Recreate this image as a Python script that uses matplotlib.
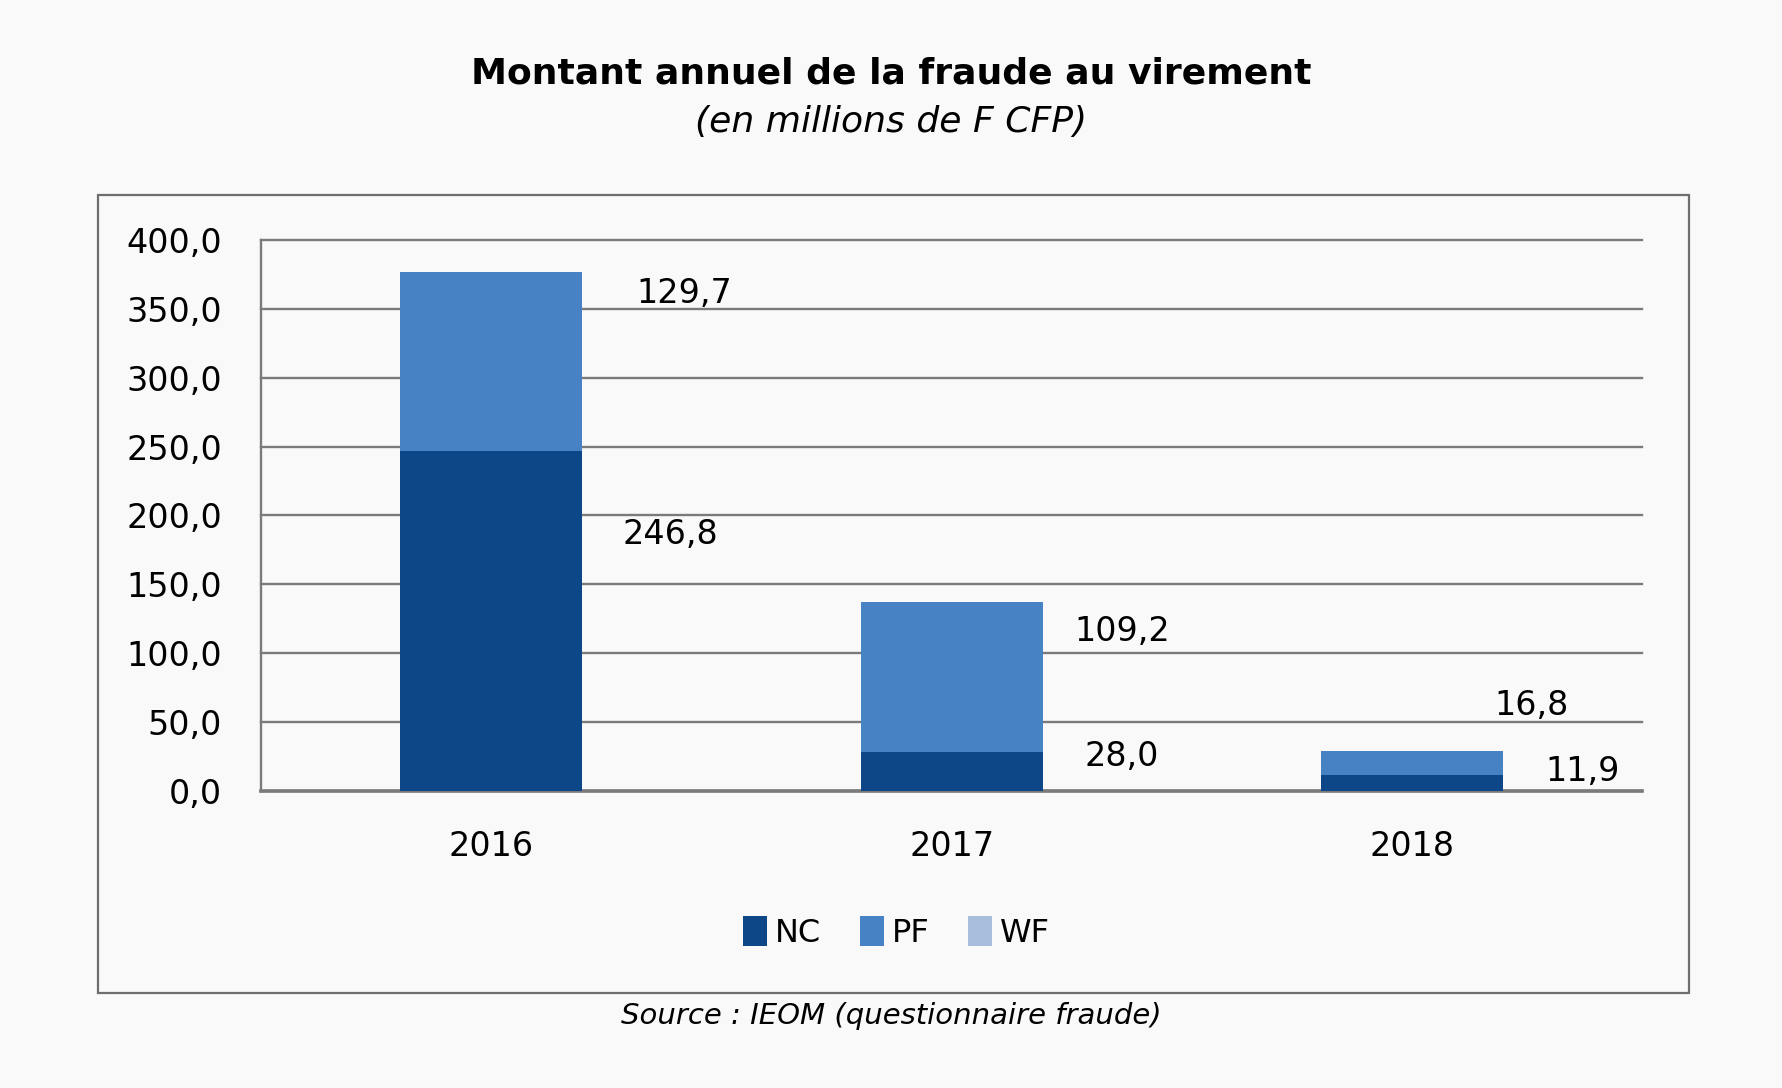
import matplotlib
matplotlib.use("Agg")
import matplotlib.pyplot as plt
from matplotlib.patches import Rectangle, Patch
from matplotlib.ticker import FuncFormatter
import numpy as np

# data (millions de F CFP)
years = ["2016", "2017", "2018"]
nc = [246.8, 28.0, 11.9]
pf = [129.7, 109.2, 16.8]
wf = [0.0, 0.0, 0.0]

# hand placed label positions, as in the source chart
nc_label_x = [0.39, 1.37, 2.37]
nc_label_y = [186, 25, 14]
pf_label_x = [0.42, 1.37, 2.26]
pf_label_y = [361, 116, 62]

c_nc = "#0e4787"
c_pf = "#4782c4"
c_wf = "#a8bcdc"
grid_c = "#7a7a7a"
bg = "#f9f9f9"

plt.rcParams["font.family"] = ["DejaVu Sans"]

fig = plt.figure(figsize=(17.82, 10.88), dpi=100)
fig.patch.set_facecolor(bg)

# outer frame of the chart
fig.patches.append(Rectangle((0.055, 0.0873), 0.893, 0.7335, transform=fig.transFigure,
                             fill=False, edgecolor="#6e6e6e", linewidth=1.6))

ax = fig.add_axes([0.1465, 0.273, 0.775, 0.5064])
ax.set_facecolor(bg)

x = np.arange(len(years))
w = 0.395
ax.bar(x, nc, w, color=c_nc, zorder=3)
ax.bar(x, pf, w, bottom=nc, color=c_pf, zorder=3)
ax.bar(x, wf, w, bottom=np.array(nc) + np.array(pf), color=c_wf, zorder=3)

for i in range(len(years)):
    ax.text(nc_label_x[i], nc_label_y[i], f"{nc[i]:.1f}".replace(".", ","),
            ha="center", va="center", fontsize=24)
    ax.text(pf_label_x[i], pf_label_y[i], f"{pf[i]:.1f}".replace(".", ","),
            ha="center", va="center", fontsize=24)

ax.set_xlim(-0.5, 2.5)
ax.set_ylim(0, 400)
ax.set_yticks(np.arange(0, 401, 50))
ax.yaxis.set_major_formatter(FuncFormatter(lambda v, p: f"{v:.1f}".replace(".", ",")))
ax.set_xticks(x)
ax.set_xticklabels(years)
ax.tick_params(axis="both", length=0, labelsize=24)
ax.tick_params(axis="y", pad=28)
ax.tick_params(axis="x", pad=28)

ax.grid(axis="y", color=grid_c, linewidth=1.7, zorder=0)
ax.set_axisbelow(True)
for line in ax.get_ygridlines():
    line.set_clip_on(False)
for s in ["top", "right"]:
    ax.spines[s].set_visible(False)
ax.spines["left"].set_color(grid_c)
ax.spines["left"].set_linewidth(1.7)
ax.spines["bottom"].set_color(grid_c)
ax.spines["bottom"].set_linewidth(2.6)

fig.text(0.5, 0.932, "Montant annuel de la fraude au virement", ha="center", va="center",
         fontsize=26, fontweight="bold")
fig.text(0.5, 0.888, "(en millions de F CFP)", ha="center", va="center",
         fontsize=26, style="italic")
fig.text(0.5, 0.066, "Source : IEOM (questionnaire fraude)", ha="center", va="center",
         fontsize=21, style="italic")

handles = [Patch(facecolor=c_nc, label="NC"), Patch(facecolor=c_pf, label="PF"),
           Patch(facecolor=c_wf, label="WF")]
fig.legend(handles=handles, loc="center", bbox_to_anchor=(0.503, 0.143), ncol=3,
           frameon=False, fontsize=23, handlelength=0.75, handleheight=1.1,
           handletextpad=0.25, columnspacing=1.2)

fig.savefig("out.png", dpi=100, facecolor=bg)
